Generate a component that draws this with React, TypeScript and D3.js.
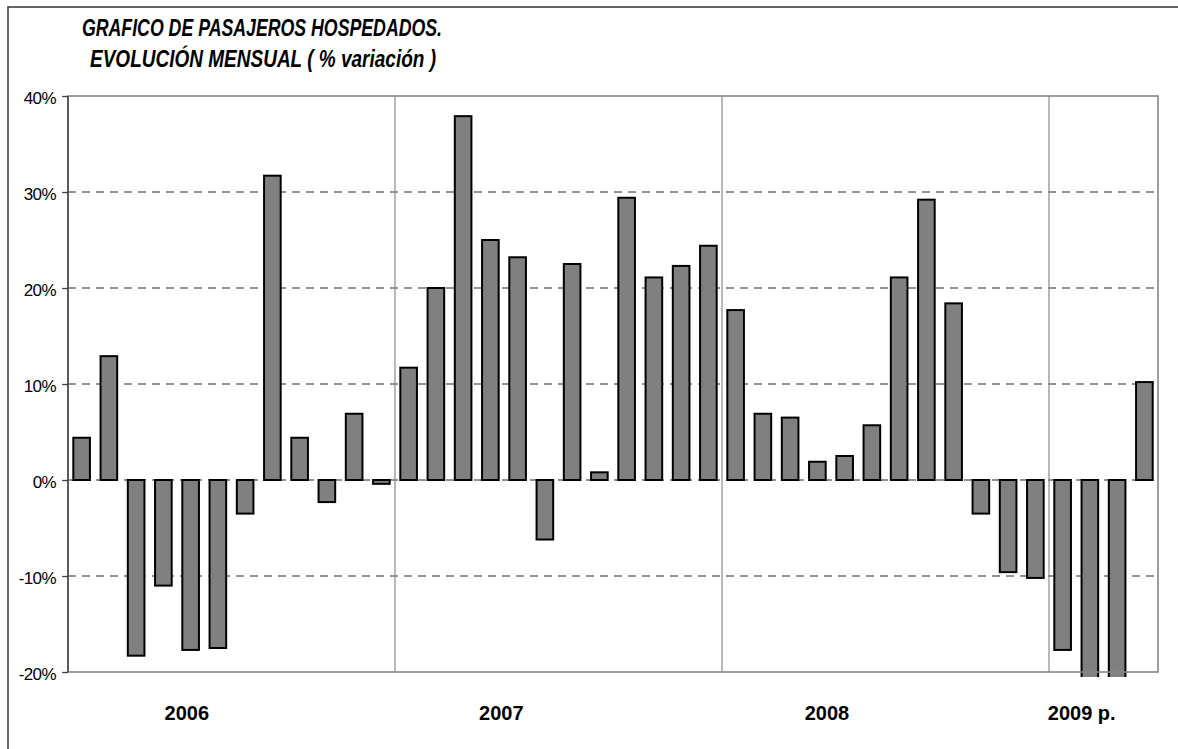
import * as React from "react";
import * as d3 from "d3";

// monthly % variation of lodged passengers
const years = ["2006", "2007", "2008", "2009 p."];
const values2006 = [4.4, 12.9, -18.3, -11.0, -17.7, -17.5, -3.5, 31.7, 4.4, -2.3, 6.9, -0.4];
const values2007 = [11.7, 20.0, 37.9, 25.0, 23.2, -6.2, 22.5, 0.8, 29.4, 21.1, 22.3, 24.4];
const values2008 = [17.7, 6.9, 6.5, 1.9, 2.5, 5.7, 21.1, 29.2, 18.4, -3.5, -9.6, -10.2];
const values2009 = [-17.7, -22.5, -21.8, 10.2];
const yTicks = [-20, -10, 0, 10, 20, 30, 40];
const titleLines = ["GRAFICO DE PASAJEROS HOSPEDADOS.", "EVOLUCIÓN MENSUAL ( % variación )"];

// where each year label sits, in month slots from the start of the series
const yearLabelSlot = [4.36, 15.9, 27.85, 37.2];

const width = 1178;
const height = 749;
const plot = { left: 68, right: 1158, top: 96, bottom: 672 };
const font = "Arial, 'Liberation Sans', sans-serif";

function YAxis({ yScale }: { yScale: d3.ScaleLinear<number, number> }) {
	const ref = React.useRef<SVGGElement>(null);
	React.useEffect(() => {
		d3.select(ref.current!)
			.call(
				d3
					.axisLeft(yScale)
					.tickValues(yTicks)
					.tickSize(6)
					.tickPadding(6)
					.tickFormat((d) => `${d}%`)
			)
			.call((g) => g.select(".domain").remove())
			.call((g) => g.selectAll(".tick line").attr("stroke", "#404040").attr("stroke-width", 1.3))
			.call((g) =>
				g
					.selectAll(".tick text")
					.attr("font-size", 17)
					.attr("font-family", font)
					.attr("fill", "#000")
					.attr("dy", "0.42em")
					.attr("letter-spacing", "-0.6")
			);
	}, [yScale]);
	return <g ref={ref} transform={`translate(${plot.left},0)`} />;
}

export default function App() {
	const series = [values2006, values2007, values2008, values2009];
	const bars = series.flatMap((vals, yi) =>
		vals.map((v, mi) => ({ id: `${years[yi]}-${mi + 1}`, year: yi, value: v }))
	);
	const groupStarts = series.map((_, i) =>
		series.slice(0, i).reduce((n, s) => n + s.length, 0)
	);

	const xScale = d3
		.scaleBand<string>()
		.domain(bars.map((b) => b.id))
		.range([plot.left, plot.right])
		.padding(0);
	const step = xScale.step();
	const yScale = d3.scaleLinear([-20, 40], [plot.bottom, plot.top]);
	const barW = step * 0.61;

	return (
		<svg
			width={width}
			height={height}
			style={{ position: "absolute", left: 0, top: 0, background: "#fff" }}
		>
			<defs>
				<clipPath id="barclip">
					<rect x={plot.left} y={plot.top} width={plot.right - plot.left} height={plot.bottom - plot.top + 5} />
				</clipPath>
			</defs>
			{/* outer frame */}
			<rect x={8} y={7} width={width + 20} height={height + 20} fill="none" stroke="#333" strokeWidth={1.5} />

			{titleLines.map((t, i) => (
				<text
					key={t}
					x={i === 0 ? 82 : 90}
					y={i === 0 ? 36 : 67}
					fontFamily={font}
					fontWeight="bold"
					fontStyle="italic"
					fontSize={23}
					textLength={i === 0 ? 360 : 346}
					lengthAdjust="spacingAndGlyphs"
				>
					{t}
				</text>
			))}

			{/* gridlines */}
			{yTicks
				.filter((t) => t > -20 && t < 40)
				.map((t) => (
					<line
						key={t}
						x1={plot.left}
						x2={plot.right}
						y1={yScale(t)}
						y2={yScale(t)}
						stroke="#6e6e6e"
						strokeWidth={1.4}
						strokeDasharray="8,6"
					/>
				))}

			{/* year separators */}
			{groupStarts.slice(1).map((s) => (
				<line
					key={s}
					x1={plot.left + s * step}
					x2={plot.left + s * step}
					y1={plot.top}
					y2={plot.bottom}
					stroke="#8a8a8a"
					strokeWidth={1.2}
				/>
			))}

			<g clipPath="url(#barclip)">
				{bars.map((b) => {
					const x = xScale(b.id)! + step / 2 - barW / 2;
					const y0 = yScale(0);
					const y1 = yScale(b.value);
					return (
						<rect
							key={b.id}
							x={x}
							y={Math.min(y0, y1)}
							width={barW}
							height={Math.abs(y1 - y0)}
							fill="#808080"
							stroke="#000"
							strokeWidth={2}
						/>
					);
				})}
			</g>

			{/* plot border */}
			<rect
				x={plot.left}
				y={plot.top}
				width={plot.right - plot.left}
				height={plot.bottom - plot.top}
				fill="none"
				stroke="#858585"
				strokeWidth={1.6}
			/>
			<line x1={plot.left} x2={plot.left} y1={plot.top} y2={plot.bottom} stroke="#404040" strokeWidth={1.4} />
			<YAxis yScale={yScale} />

			{years.map((y, i) => (
				<text
					key={y}
					x={plot.left + yearLabelSlot[i] * step}
					y={720}
					textAnchor="middle"
					fontFamily={font}
					fontWeight="bold"
					fontSize={20}
				>
					{y}
				</text>
			))}
		</svg>
	);
}
